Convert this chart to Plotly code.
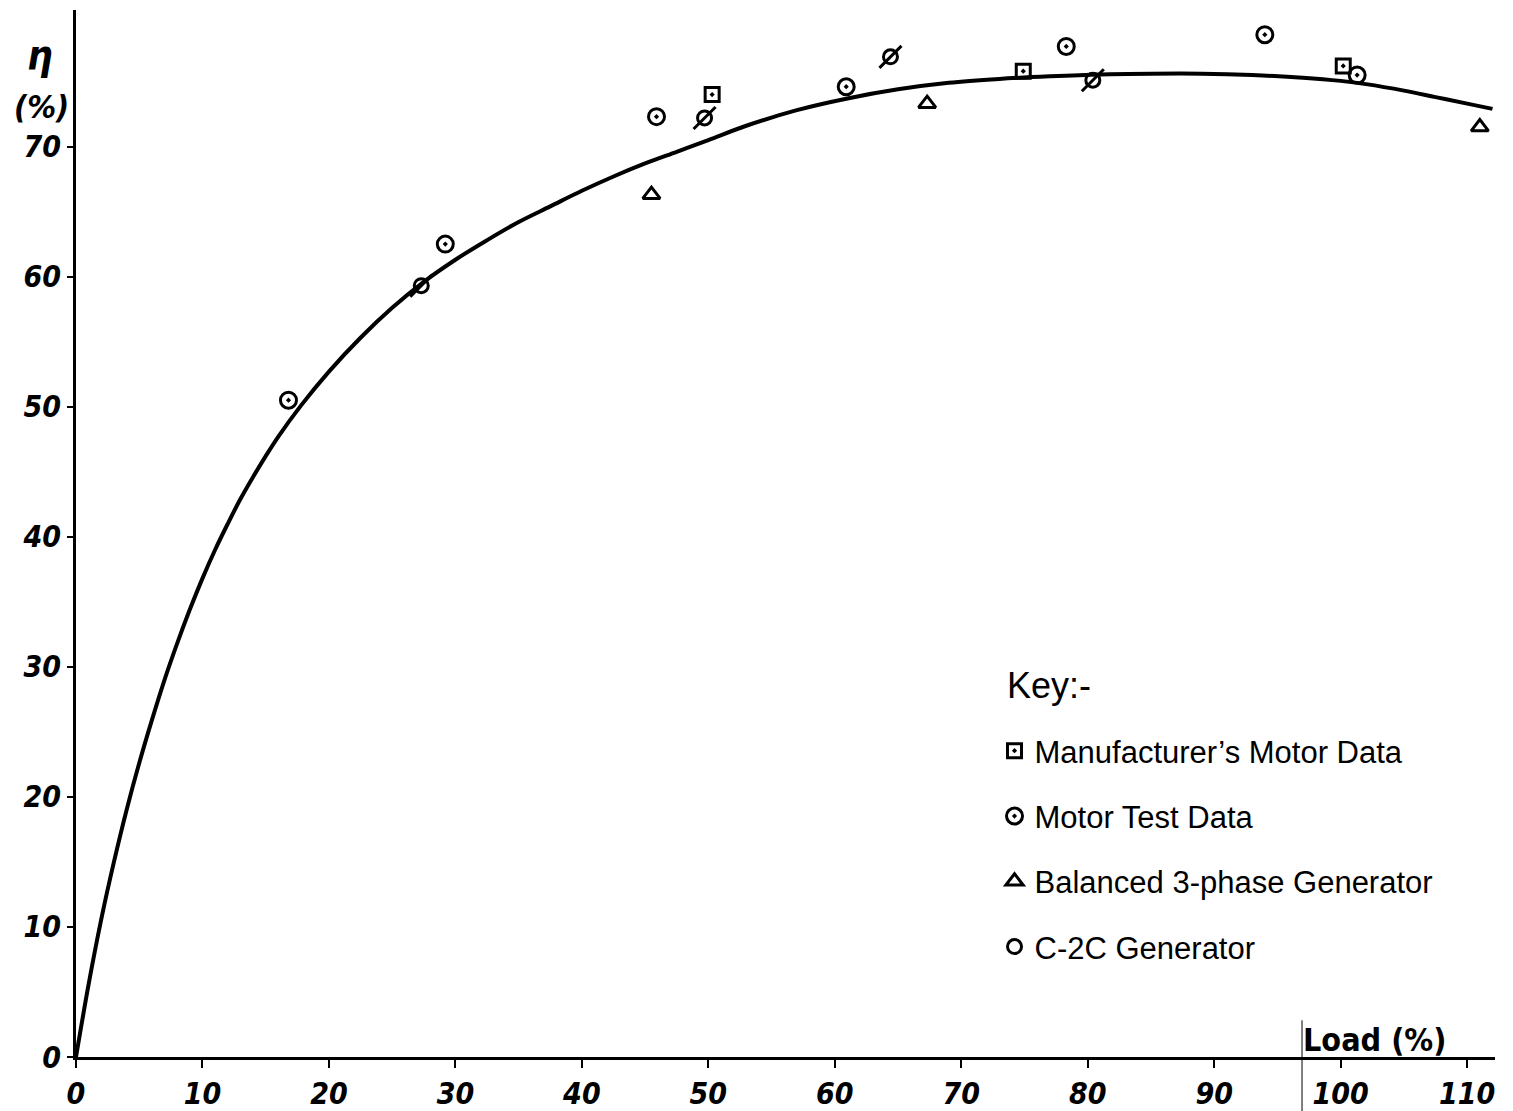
import plotly.graph_objects as go

# Fitted efficiency curve
curve_load = [0, 1, 2, 3, 4, 5, 6, 7, 8, 9, 10, 11, 12, 13, 14, 15, 16, 17.8, 20, 22.5, 25, 27.5,
              30, 32.5, 35, 37.5, 40, 42.5, 45, 47.5, 50, 53, 57, 61, 65, 69, 73, 77, 81, 85, 89,
              93, 97, 100, 102, 105, 107.5, 110, 112]
curve_eff = [0, 5.6, 10.6, 15.0, 19.0, 22.6, 25.9, 29.0, 31.8, 34.4, 36.8, 39.0, 41.0, 42.9, 44.6,
             46.2, 47.7, 50.1, 52.7, 55.3, 57.6, 59.6, 61.3, 62.8, 64.2, 65.4, 66.6, 67.7, 68.7,
             69.6, 70.5, 71.6, 72.8, 73.7, 74.4, 74.9, 75.2, 75.4, 75.55, 75.6, 75.6, 75.5, 75.3,
             75.05, 74.8, 74.3, 73.8, 73.3, 72.9]

# Data points
manuf_load = [50.3, 74.9, 100.2]
manuf_eff = [74.0, 75.8, 76.2]

test_load = [16.8, 29.2, 45.9, 60.9, 78.3, 94.0, 101.3]
test_eff = [50.5, 62.5, 72.3, 74.6, 77.7, 78.6, 75.5]

bal_load = [45.5, 67.3, 111.0]
bal_eff = [66.3, 73.3, 71.5]

c2c_load = [27.3, 49.7, 64.4, 80.4]
c2c_eff = [59.3, 72.2, 76.9, 75.1]

x_ticks = [0, 10, 20, 30, 40, 50, 60, 70, 80, 90, 100, 110]
y_ticks = [0, 10, 20, 30, 40, 50, 60, 70]

fig = go.Figure()

fig.add_trace(go.Scatter(x=curve_load, y=curve_eff, mode="lines",
                         line=dict(color="black", width=4, shape="spline", smoothing=1.0),
                         showlegend=False, hoverinfo="skip"))

mk_line = dict(color="black", width=3)
fig.add_trace(go.Scatter(x=manuf_load, y=manuf_eff, mode="markers", name="Manufacturer’s Motor Data",
                         marker=dict(symbol="square-open-dot", size=14, color="black", line=mk_line), legendgroup="a"))
fig.add_trace(go.Scatter(x=test_load, y=test_eff, mode="markers", name="Motor Test Data",
                         marker=dict(symbol="circle-open-dot", size=16, color="black", line=mk_line), legendgroup="b"))
fig.add_trace(go.Scatter(x=bal_load, y=bal_eff, mode="markers", name="Balanced 3-phase Generator",
                         marker=dict(symbol="triangle-up-open", size=15, color="black", line=mk_line), legendgroup="c"))
fig.add_trace(go.Scatter(x=c2c_load, y=c2c_eff, mode="markers", name="C-2C Generator",
                         marker=dict(symbol="circle-open", size=14, color="black", line=mk_line), legendgroup="d"))
fig.add_trace(go.Scatter(x=c2c_load, y=c2c_eff, mode="markers", showlegend=False, legendgroup="d",
                         marker=dict(symbol="line-ne", size=22, color="black", line=dict(color="black", width=3))))

hand = "DejaVu Sans Condensed"
tick_font = dict(family=hand, size=30, color="black", style="italic", weight="bold")

fig.update_layout(
    width=1505, height=1103,
    margin=dict(l=68, r=18, t=2, b=54, autoexpand=False),
    paper_bgcolor="white", plot_bgcolor="white",
    xaxis=dict(range=[0, 112.2], tickvals=x_ticks, ticktext=[str(v) for v in x_ticks],
               showline=True, linecolor="black", linewidth=3, ticks="outside", ticklen=8, tickwidth=2,
               tickcolor="black", showgrid=False, zeroline=False, tickfont=tick_font),
    yaxis=dict(range=[0, 80.5], tickvals=y_ticks, ticktext=[str(v) for v in y_ticks],
               showline=True, linecolor="black", linewidth=3, ticks="outside", ticklen=6, tickwidth=2,
               tickcolor="black", showgrid=False, zeroline=False, tickfont=tick_font),
    legend=dict(font=dict(family="Liberation Sans", size=31, color="black"),
                x=0.6473, y=0.318, xanchor="left", yanchor="top",
                traceorder="grouped", tracegroupgap=22, bgcolor="rgba(0,0,0,0)"),
    annotations=[
        dict(text="Key:-", xref="paper", yref="paper", x=0.655, y=0.355, xanchor="left", yanchor="middle",
             showarrow=False, font=dict(family="Liberation Sans", size=36, color="black")),
        dict(text="η", xref="paper", yref="paper", x=-0.0254, y=0.957, xanchor="center", yanchor="middle",
             showarrow=False, font=dict(family=hand, size=40, color="black", style="italic", weight="bold")),
        dict(text="(%)", xref="paper", yref="paper", x=-0.024, y=0.907, xanchor="center", yanchor="middle",
             showarrow=False, font=dict(family=hand, size=32, color="black", style="italic", weight="bold")),
        dict(text="Load (%)", xref="paper", yref="paper", x=0.915, y=-0.004, xanchor="center", yanchor="bottom",
             showarrow=False, font=dict(family=hand, size=32, color="black", weight="bold")),
    ],
    shapes=[dict(type="line", xref="paper", yref="paper", x0=0.864, x1=0.864, y0=0.035, y1=-0.052,
                 line=dict(color="black", width=1))],
)

fig.write_html("out.html")
